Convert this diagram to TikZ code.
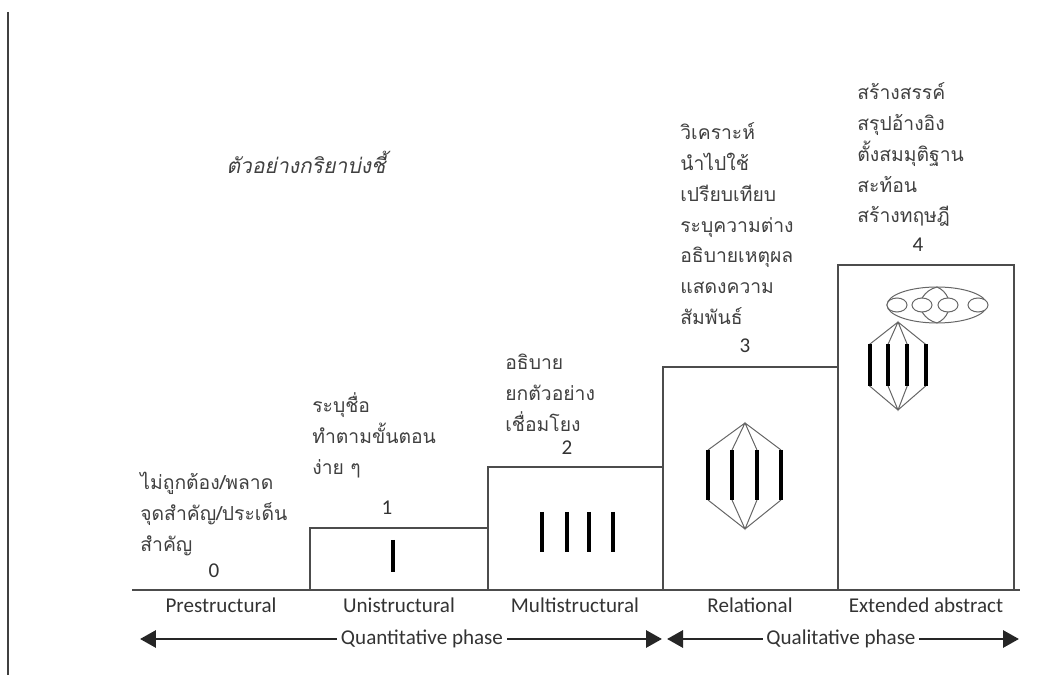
\documentclass[tikz,border=0pt]{standalone}
\usepackage{fontspec}
\setmainfont{Carlito}
\newfontfamily\thai[Script=Thai]{Loma}
\newfontfamily\thaiit[Script=Thai,FakeSlant=0.2]{Loma}
\usetikzlibrary{arrows.meta}

\begin{document}
\begin{tikzpicture}[x=0.02cm,y=-0.02cm]
	\tikzset{
	  steps/.style={draw=black!70,line width=0.4mm},
	  bar/.style={line width=0.8mm,black},
	  thin/.style={draw=black!60,line width=0.2mm},
	  verbs/.style={font=\thai\fontsize{11}{17.6}\selectfont,align=left,anchor=north west,inner sep=0pt,text=black!75},
	  level/.style={font=\fontsize{12}{14}\selectfont,inner sep=0pt,text=black!80},
	  phase/.style={line width=0.6mm,black!85,-{Triangle[length=3.2mm,width=3.4mm]}},
	}

          \tikzset{
            linked/.pic ={
              \draw[thin]
        (-37,-26) -- (0,-53) -- (36,-26)
        (-13,-26) -- (0,-53) -- (12,-26)
        (-37,24) -- (0,53) -- (36,24)
        (-13,24) -- (0,53) -- (12,24);
              \foreach \x in {-37,-13,12,36}
                \draw[bar] (\x,-26) -- (\x,24);
            }
          }

        \useasboundingbox (0,0) rectangle (1059,675);

        %LEFT EDGE
        \draw[black!75,line width=0.4mm] (8,12) -- (8,675);

        %BASE LINE
        \coordinate (b0) at (132,590);
        \coordinate (b1) at (1020,590);
        \draw[steps] (b0) -- (b1);

        %STEPS
        \draw[steps] (310,590) rectangle (488,528);
        \draw[steps] (488,590) rectangle (663,467);
        \draw[steps] (663,590) rectangle (838,367);
        \draw[steps] (838,590) rectangle (1014,265);

        %BARS
        \draw[bar] (393,540) -- (393,572);
        \foreach \x in {542,567,589,613}
          \draw[bar] (\x,512) -- (\x,552);
        \draw (745,476) pic {linked};
        \draw (898,366) pic[xscale=0.77,yscale=0.83] {linked};

        %CLOUD
        \draw[thin] (937,305) ellipse [x radius=50,y radius=18];
        \foreach \x in {897,922,948,978}
          \draw[thin,fill=white] (\x,305) ellipse [x radius=10,y radius=7];
        \draw[thin] (937,287) to[bend right=20] (922,298)
                    (937,287) to[bend left=20] (948,298)
                    (937,323) to[bend left=20] (922,312)
                    (937,323) to[bend right=20] (948,312);

        %LEVEL NAMES
        \node[level] (pre) at (221,605) {Prestructural};
        \node[level] (uni) at (399,605) {Unistructural};
        \node[level] (multi) at (575,605) {Multistructural};
        \node[level] (rel) at (750,605) {Relational};
        \node[level] (ext) at (926,605) {Extended abstract};

        %NUMBERS
        \node[level] (n0) at (214,571) {0};
        \node[level] (n1) at (387,508) {1};
        \node[level] (n2) at (567,448) {2};
        \node[level] (n3) at (745,346) {3};
        \node[level] (n4) at (918,245) {4};

        %VERBS
        \node[verbs] (v0) at (140,472) {ไม่ถูกต้อง/พลาด\\จุดสำคัญ/ประเด็น\\สำคัญ};
        \node[verbs] (v1) at (312,392) {ระบุชื่อ\\ทำตามขั้นตอน\\ง่าย ๆ};
        \node[verbs] (v2) at (505,354) {อธิบาย\\ยกตัวอย่าง\\เชื่อมโยง};
        \node[verbs] (v3) at (680,122) {วิเคราะห์\\นำไปใช้\\เปรียบเทียบ\\ระบุความต่าง\\อธิบายเหตุผล\\แสดงความ\\สัมพันธ์};
        \node[verbs] (v4) at (857,82) {สร้างสรรค์\\สรุปอ้างอิง\\ตั้งสมมุติฐาน\\สะท้อน\\สร้างทฤษฎี};
        \node[font=\thaiit\fontsize{12}{14}\selectfont,text=black!75,inner sep=0pt] (title) at (306,162) {ตัวอย่างกริยาบ่งชี้};

        %PHASES
        \node[level,inner sep=2pt] (quan) at (422,639) {Quantitative phase};
        \node[level,inner sep=2pt] (qual) at (841,639) {Qualitative phase};
        \coordinate (a0) at (140,639);
        \coordinate (a1) at (662,639);
        \coordinate (a2) at (667,639);
        \coordinate (a3) at (1019,639);
        \draw[phase] (quan) -- (a0);
        \draw[phase] (quan) -- (a1);
        \draw[phase] (qual) -- (a2);
        \draw[phase] (qual) -- (a3);
    \end{tikzpicture}
\end{document}
